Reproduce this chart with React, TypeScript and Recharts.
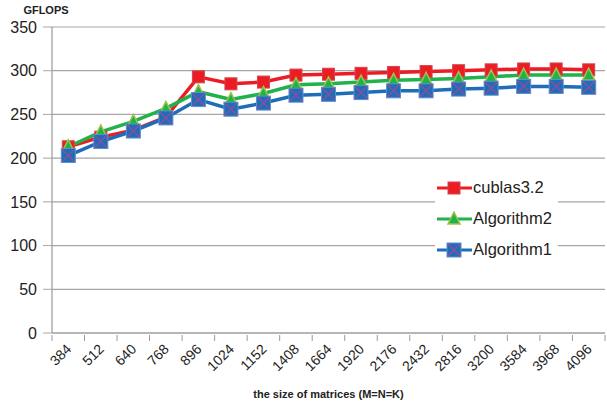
import * as React from "react";
import {
  LineChart,
  Line,
  XAxis,
  YAxis,
  CartesianGrid,
  Label,
} from "recharts";

const sizes = ["384", "512", "640", "768", "896", "1024", "1152", "1408", "1664", "1920", "2176", "2432", "2816", "3200", "3584", "3968", "4096"];
const cublas = [213, 224, 232, 247, 293, 285, 287, 295, 296, 297, 298, 299, 300, 301, 302, 302, 301];
const algorithm2 = [213, 230, 242, 257, 276, 267, 274, 284, 285, 287, 289, 290, 291, 293, 295, 295, 295];
const algorithm1 = [203, 219, 231, 246, 267, 256, 263, 272, 273, 275, 277, 277, 279, 280, 282, 282, 281];
const yTicks = [0, 50, 100, 150, 200, 250, 300, 350];

const data = sizes.map((s, i) => ({
  size: s,
  cublas: cublas[i],
  alg2: algorithm2[i],
  alg1: algorithm1[i],
}));

const FONT = "'Liberation Sans', Arial, sans-serif";
const RED = "#ec1c24";
const GREEN = "#21b24b";
const BLUE = "#1f6cb8";
const HALF_BAND = 16.3;

const SquareDot = (props: any) => {
  const { cx, cy } = props;
  if (cx == null || cy == null) return null;
  return <rect x={cx - 6} y={cy - 6} width={12} height={12} fill={RED} stroke="#d4454a" strokeWidth={1} />;
};

const TriangleDot = (props: any) => {
  const { cx, cy } = props;
  if (cx == null || cy == null) return null;
  return (
    <polygon
      points={`${cx},${cy - 7} ${cx + 6},${cy + 5} ${cx - 6},${cy + 5}`}
      fill={GREEN}
      stroke="#9cc34a"
      strokeWidth={1.5}
    />
  );
};

const CrossDot = (props: any) => {
  const { cx, cy } = props;
  if (cx == null || cy == null) return null;
  return (
    <g>
      <rect x={cx - 7} y={cy - 7} width={14} height={14} fill={BLUE} stroke="#5d8fcc" strokeWidth={1} />
      <line x1={cx - 6} y1={cy - 6} x2={cx + 6} y2={cy + 6} stroke="#8a4f9e" strokeWidth={1.5} />
      <line x1={cx - 6} y1={cy + 6} x2={cx + 6} y2={cy - 6} stroke="#8a4f9e" strokeWidth={1.5} />
    </g>
  );
};

// tick marks sit on the band edges, labels on the points
const XTick = (props: any) => {
  const { x, y, payload, index } = props;
  const axisY = y;
  const last = index === sizes.length - 1;
  return (
    <g>
      <line x1={x - HALF_BAND} y1={axisY} x2={x - HALF_BAND} y2={axisY + 6} stroke="#999" />
      {last && <line x1={x + HALF_BAND} y1={axisY} x2={x + HALF_BAND} y2={axisY + 6} stroke="#999" />}
      <text
        x={x + 4}
        y={axisY + 15}
        transform={`rotate(-45, ${x + 4}, ${axisY + 15})`}
        textAnchor="end"
        fontSize={14}
        fontFamily={FONT}
        fill="#222"
      >
        {payload.value}
      </text>
    </g>
  );
};

const legendItems = [
  { name: "cublas3.2", color: RED, Dot: SquareDot },
  { name: "Algorithm2", color: GREEN, Dot: TriangleDot },
  { name: "Algorithm1", color: BLUE, Dot: CrossDot },
];

export default function App() {
  return (
    <div style={{ position: "absolute", left: 0, top: 0, width: 607, height: 406, background: "#fff" }}>
      <LineChart width={607} height={406} data={data} margin={{ top: 27, right: 2, left: 0, bottom: 0 }}>
        <CartesianGrid vertical={false} stroke="#a6a6a6" strokeWidth={1.2} />
        <XAxis
          dataKey="size"
          height={73}
          tick={<XTick />}
          interval={0}
          tickLine={false}
          tickSize={0}
          padding={{ left: HALF_BAND, right: HALF_BAND }}
          axisLine={{ stroke: "#999", strokeWidth: 1.2 }}
        >
          <Label
            value="the size of matrices (M=N=K)"
            position="insideBottom"
            offset={8}
            style={{ fontFamily: FONT, fontSize: 11, fontWeight: "bold", fill: "#222" }}
          />
        </XAxis>
        <YAxis
          width={52}
          domain={[0, 350]}
          ticks={yTicks}
          interval={0}
          tickSize={9}
          tickMargin={6}
          tickLine={{ stroke: "#a6a6a6" }}
          axisLine={{ stroke: "#999", strokeWidth: 1.2 }}
          tick={{ fontSize: 16, fontFamily: FONT, fill: "#222" }}
        />
        <Line
          dataKey="cublas"
          name="cublas3.2"
          stroke={RED}
          strokeWidth={3.5}
          dot={<SquareDot />}
          isAnimationActive={false}
        />
        <Line
          dataKey="alg2"
          name="Algorithm2"
          stroke={GREEN}
          strokeWidth={3.5}
          dot={<TriangleDot />}
          isAnimationActive={false}
        />
        <Line
          dataKey="alg1"
          name="Algorithm1"
          stroke={BLUE}
          strokeWidth={3.5}
          dot={<CrossDot />}
          isAnimationActive={false}
        />
        <text x={46} y={14} textAnchor="middle" fontFamily={FONT} fontSize={11} fontWeight="bold" fill="#222">
          GFLOPS
        </text>
      </LineChart>
      <div style={{ position: "absolute", left: 435, top: 172, background: "#fff", paddingRight: 6 }}>
        {legendItems.map((it) => (
          <div key={it.name} style={{ display: "flex", alignItems: "center", height: 31 }}>
            <svg width={38} height={16}>
              <line x1={2} y1={8} x2={37} y2={8} stroke={it.color} strokeWidth={3} />
              <it.Dot cx={19} cy={8} />
            </svg>
            <span style={{ fontFamily: FONT, fontSize: 16.5, color: "#222" }}>{it.name}</span>
          </div>
        ))}
      </div>
    </div>
  );
}
